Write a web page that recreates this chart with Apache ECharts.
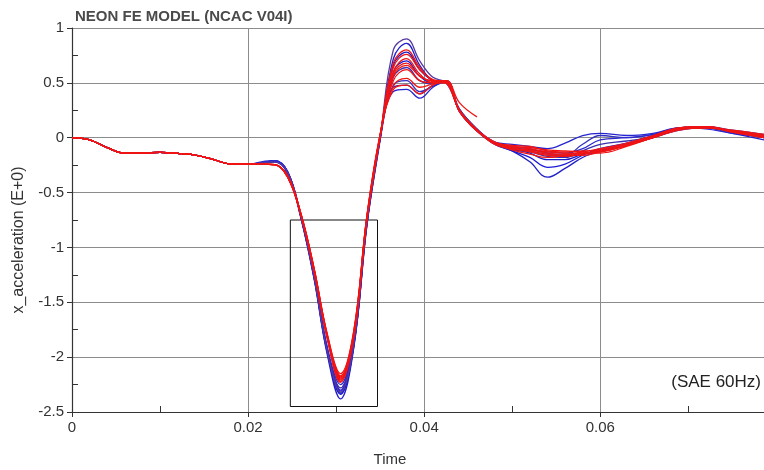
<!DOCTYPE html>
<html>
<head>
<meta charset="utf-8">
<script src="https://cdn.jsdelivr.net/npm/echarts@6/dist/echarts.min.js"></script>
<style>
  html, body { margin: 0; padding: 0; background: #fff; }
  #chart { width: 764px; height: 470px; }
</style>
</head>
<body>
<div id="chart"></div>
<script>
// time stamps (s)
var timeEarly = [0, 0.002, 0.004, 0.006, 0.008, 0.010, 0.012, 0.014, 0.016, 0.018, 0.020];
var accelEarly = [0, -0.02, -0.09, -0.14, -0.14, -0.133, -0.142, -0.158, -0.197, -0.24, -0.242];

var timeTail = [0.0215, 0.023, 0.0245, 0.026, 0.0275, 0.029, 0.0305, 0.032, 0.0335, 0.035,
                0.0365, 0.038, 0.0395, 0.041, 0.0425, 0.044, 0.046, 0.048, 0.050, 0.052,
                0.054, 0.056, 0.058, 0.060, 0.063, 0.066, 0.069, 0.072, 0.075, 0.0786];

var blueRuns = [
  [-0.23,-0.21,-0.32,-0.73,-1.29,-1.98,-2.38,-1.92,-0.80,-0.02,0.72,0.86,0.66,0.52,0.50,0.26,0.08,-0.05,-0.12,-0.22,-0.36,-0.28,-0.18,-0.12,-0.06,0.02,0.08,0.09,0.04,-0.02],
  [-0.23,-0.21,-0.31,-0.72,-1.27,-1.95,-2.34,-1.90,-0.78,0.00,0.60,0.70,0.56,0.50,0.51,0.25,0.07,-0.06,-0.12,-0.18,-0.27,-0.24,-0.16,-0.10,-0.05,0.02,0.09,0.10,0.05,0.00],
  [-0.23,-0.22,-0.32,-0.72,-1.26,-1.93,-2.30,-1.86,-0.76,0.00,0.48,0.52,0.42,0.47,0.51,0.24,0.06,-0.05,-0.08,-0.10,-0.14,-0.16,-0.06,0.02,0.00,0.03,0.08,0.09,0.06,0.02],
  [-0.23,-0.22,-0.31,-0.71,-1.25,-1.92,-2.31,-1.88,-0.77,-0.01,0.42,0.44,0.36,0.46,0.52,0.26,0.07,-0.04,-0.06,-0.08,-0.10,-0.05,0.02,0.04,0.02,0.04,0.09,0.08,0.04,0.01],
  [-0.23,-0.21,-0.33,-0.73,-1.28,-1.96,-2.33,-1.90,-0.79,-0.01,0.66,0.78,0.62,0.52,0.50,0.25,0.07,-0.05,-0.10,-0.14,-0.20,-0.20,-0.15,-0.12,-0.07,0.00,0.07,0.09,0.06,0.02],
  [-0.23,-0.22,-0.32,-0.72,-1.26,-1.94,-2.28,-1.85,-0.76,0.01,0.55,0.64,0.52,0.49,0.51,0.24,0.06,-0.06,-0.11,-0.13,-0.17,-0.18,-0.12,-0.06,-0.03,0.01,0.08,0.10,0.07,0.03],
  [-0.22,-0.21,-0.31,-0.71,-1.24,-1.91,-2.25,-1.83,-0.75,0.02,0.46,0.48,0.40,0.48,0.52,0.25,0.07,-0.04,-0.09,-0.11,-0.13,-0.14,-0.10,-0.02,0.00,0.03,0.09,0.09,0.05,0.00],
  [-0.23,-0.22,-0.32,-0.72,-1.27,-1.95,-2.32,-1.89,-0.78,0.00,0.80,0.90,0.70,0.55,0.50,0.26,0.08,-0.05,-0.10,-0.12,-0.15,-0.17,-0.15,-0.11,-0.06,0.01,0.08,0.09,0.05,0.01]
];
var blueColors = ['#2020c8', '#1a1ad8', '#3030c0', '#2424d0', '#1c1cc4', '#3a2fb0', '#2a2ad0', '#5538a0'];

var redRuns = [
  [-0.24,-0.245,-0.35,-0.70,-1.20,-1.80,-2.18,-1.78,-0.72,0.02,0.68,0.80,0.64,0.52,0.50,0.25,0.07,-0.05,-0.09,-0.12,-0.15,-0.15,-0.13,-0.10,-0.05,0.02,0.09,0.10,0.05,0.00],
  [-0.24,-0.245,-0.36,-0.70,-1.21,-1.82,-2.21,-1.80,-0.73,0.02,0.60,0.72,0.58,0.50,0.50,0.24,0.06,-0.05,-0.10,-0.13,-0.16,-0.17,-0.15,-0.11,-0.06,0.01,0.08,0.09,0.06,0.02],
  [-0.24,-0.245,-0.35,-0.69,-1.19,-1.79,-2.15,-1.76,-0.71,0.03,0.52,0.62,0.52,0.50,0.51,0.25,0.07,-0.04,-0.08,-0.10,-0.13,-0.14,-0.14,-0.12,-0.06,0.01,0.08,0.10,0.06,0.01],
  [-0.24,-0.245,-0.36,-0.70,-1.21,-1.83,-2.22,-1.81,-0.74,0.01,0.56,0.66,0.56,0.52,0.52,0.32,0.19,null,null,null,null,null,null,null,null,null,null,null,null,null],
  [-0.24,-0.245,-0.35,-0.70,-1.20,-1.81,-2.19,-1.79,-0.72,0.02,0.47,0.54,0.46,0.49,0.51,0.24,0.06,-0.05,-0.08,-0.09,-0.11,-0.12,-0.13,-0.14,-0.08,0.00,0.07,0.09,0.07,0.03],
  [-0.24,-0.245,-0.36,-0.70,-1.21,-1.82,-2.20,-1.80,-0.73,0.02,0.64,0.76,0.62,0.53,0.50,0.25,0.07,-0.05,-0.11,-0.15,-0.18,-0.16,-0.14,-0.13,-0.07,0.00,0.08,0.10,0.06,0.01],
  [-0.24,-0.245,-0.35,-0.69,-1.19,-1.80,-2.17,-1.77,-0.71,0.03,0.44,0.48,0.40,0.48,0.52,0.25,0.07,-0.04,-0.07,-0.08,-0.12,-0.13,-0.12,-0.12,-0.07,0.01,0.09,0.10,0.05,0.00],
  [-0.24,-0.245,-0.36,-0.71,-1.22,-1.83,-2.23,-1.82,-0.74,0.01,0.58,0.68,0.56,0.51,0.50,0.25,0.07,-0.06,-0.10,-0.11,-0.14,-0.16,-0.16,-0.13,-0.07,0.00,0.08,0.09,0.06,0.02]
];
var redColor = '#f01414';

// zoom box around the trough
var boxTime = [0.0248, 0.0347, 0.0347, 0.0248, 0.0248];
var boxAccel = [-0.75, -0.75, -2.45, -2.45, -0.75];

function pairs(xs, ys) {
  var out = [];
  for (var i = 0; i < xs.length; i++) out.push([xs[i], ys[i]]);
  return out;
}

function runData(tail) {
  return pairs(timeEarly.concat(timeTail), accelEarly.concat(tail));
}

var series = [];
series.push({
  type: 'line', name: 'box', data: pairs(boxTime, boxAccel),
  symbol: 'none', silent: true, z: 1,
  lineStyle: { color: '#111', width: 1 }
});
blueRuns.forEach(function (r, i) {
  series.push({
    type: 'line', data: runData(r), smooth: 0.4, symbol: 'none', z: 2,
    connectNulls: false,
    lineStyle: { color: blueColors[i], width: 1.3 }
  });
});
redRuns.forEach(function (r) {
  series.push({
    type: 'line', data: runData(r), smooth: 0.4, symbol: 'none', z: 3,
    connectNulls: false,
    lineStyle: { color: redColor, width: 1.3 }
  });
});

var chart = echarts.init(document.getElementById('chart'));
var option = {
  animation: false,
  backgroundColor: '#fff',
  textStyle: { fontFamily: 'Liberation Sans, Arial, sans-serif' },
  grid: { left: 72, top: 28, right: 0, bottom: 58 },
  xAxis: [{
    type: 'value', min: 0, max: 0.0786, interval: 0.02,
    axisLine: { onZero: false, lineStyle: { color: '#333', width: 1.2 } },
    axisTick: { show: true, length: 5, lineStyle: { color: '#333' } },
    axisLabel: { showMaxLabel: false, color: '#333', fontSize: 15, margin: 8 },
    splitLine: { show: true, lineStyle: { color: '#8c8c8c', width: 1 } }
  }, {
    type: 'value', min: 0, max: 0.0786, interval: 0.02, position: 'bottom',
    axisLine: { show: false, onZero: false }, axisLabel: { show: false },
    axisTick: { show: false, inside: true },
    minorTick: { show: true, splitNumber: 2, length: 6, lineStyle: { color: '#333' } },
    splitLine: { show: false }
  }],
  yAxis: [{
    type: 'value', min: -2.5, max: 1, interval: 0.5,
    axisLine: { show: true, onZero: false, lineStyle: { color: '#333', width: 1.2 } },
    axisTick: { show: true, length: 5, lineStyle: { color: '#333' } },
    axisLabel: { color: '#333', fontSize: 15, margin: 8 },
    splitLine: { show: true, lineStyle: { color: '#8c8c8c', width: 1 } }
  }, {
    type: 'value', min: -2.5, max: 1, interval: 0.5, position: 'left',
    axisLine: { show: false, onZero: false }, axisLabel: { show: false },
    axisTick: { show: false, inside: true },
    minorTick: { show: true, splitNumber: 2, length: 6, lineStyle: { color: '#333' } },
    splitLine: { show: false }
  }],
  graphic: [
    { type: 'text', left: 75, top: 9, style: { text: 'NEON FE MODEL (NCAC V04I)', fill: '#4a4a4a', font: 'bold 15px Liberation Sans, Arial, sans-serif' } },
    { type: 'text', x: 19, y: 240, rotation: Math.PI / 2, style: { text: 'x_acceleration (E+0)', fill: '#333', font: '16px Liberation Sans, Arial, sans-serif', align: 'center', verticalAlign: 'middle' } },
    { type: 'text', x: 390, y: 460, style: { text: 'Time', fill: '#333', font: '15px Liberation Sans, Arial, sans-serif', align: 'center', verticalAlign: 'middle' } },
    { type: 'text', right: 3, top: 374, style: { text: '(SAE 60Hz)', fill: '#222', font: '17px Liberation Sans, Arial, sans-serif' } }
  ],
  series: series
};
chart.setOption(option);
</script>
</body>
</html>
